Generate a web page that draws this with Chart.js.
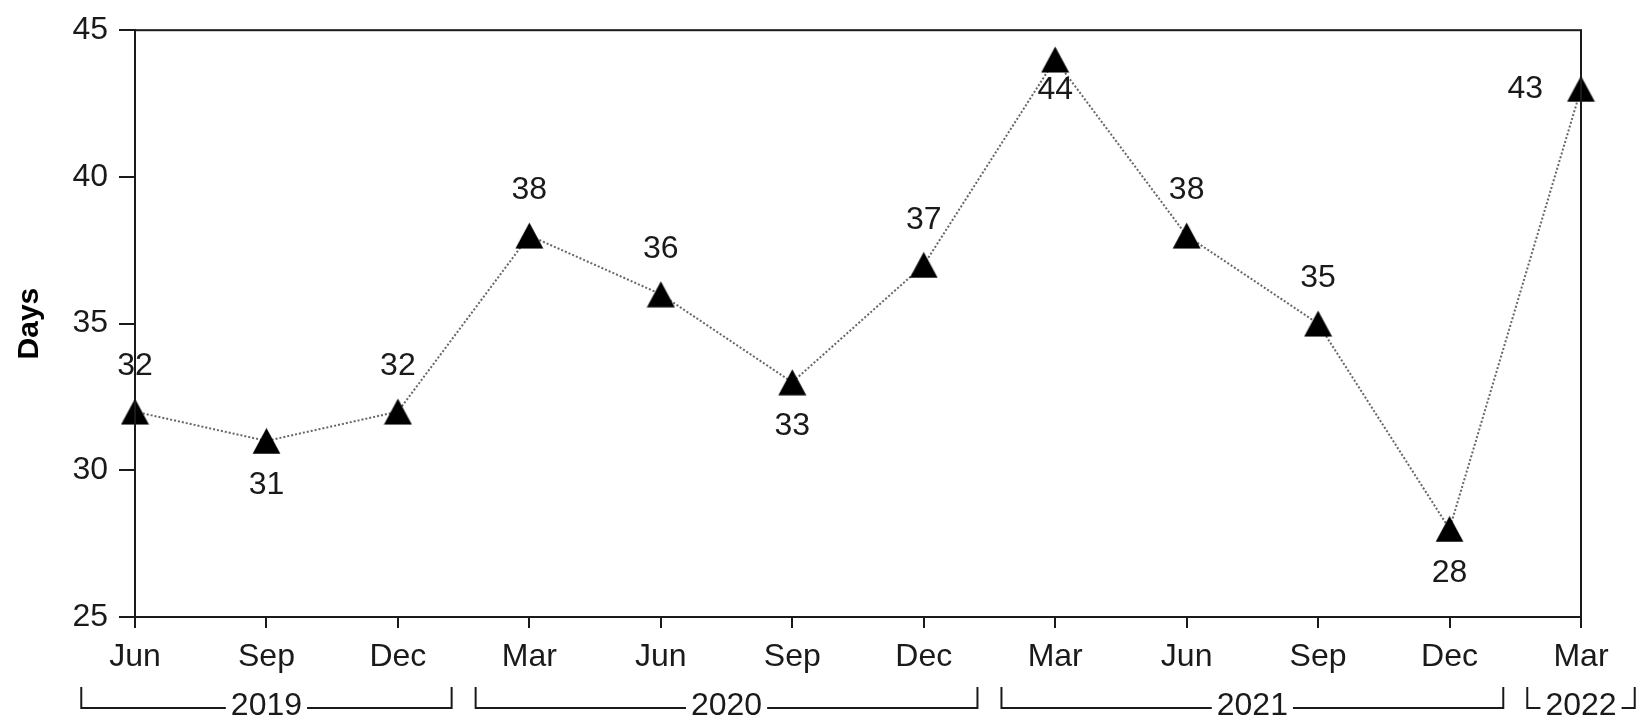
<!DOCTYPE html>
<html>
<head>
<meta charset="utf-8">
<script src="https://cdn.jsdelivr.net/npm/chart.js@4.4.1/dist/chart.umd.min.js"></script>
<style>
  html, body { margin: 0; padding: 0; background: #fff; }
  .chart-container { position: relative; width: 1648px; height: 720px; }
</style>
</head>
<body>
<div class="chart-container">
  <canvas id="myChart" width="1648" height="720"></canvas>
</div>
<script>
// --- dados ---
var months = ['Jun', 'Sep', 'Dec', 'Mar', 'Jun', 'Sep', 'Dec', 'Mar', 'Jun', 'Sep', 'Dec', 'Mar'];
var years  = ['2019', '2019', '2019', '2020', '2020', '2020', '2020', '2021', '2021', '2021', '2021', '2022'];
var days   = [32, 31, 32, 38, 36, 33, 37, 44, 38, 35, 28, 43];
var yTicks = [25, 30, 35, 40, 45];

// onde cada rótulo fica em relação ao ponto
var labelPlacement = ['above', 'below', 'above', 'above', 'above', 'below', 'above', 'under', 'above', 'above', 'below', 'left'];

var FONT = '"Liberation Sans", Arial, sans-serif';
var INK = '#1a1a1a';

// triângulo preenchido como marcador
function makeTriangle() {
  var c = document.createElement('canvas');
  c.width = 29; c.height = 27;
  var g = c.getContext('2d');
  g.fillStyle = '#000';
  g.beginPath();
  g.moveTo(14.5, 0.5);
  g.lineTo(28.5, 26.5);
  g.lineTo(0.5, 26.5);
  g.closePath();
  g.fill();
  return c;
}

// rótulos de valor
var valueLabels = {
  id: 'valueLabels',
  afterDatasetsDraw: function(chart) {
    var ctx = chart.ctx;
    var meta = chart.getDatasetMeta(0);
    ctx.save();
    ctx.font = '32px ' + FONT;
    ctx.fillStyle = INK;
    ctx.textBaseline = 'middle';
    meta.data.forEach(function(pt, i) {
      var p = labelPlacement[i];
      var x = pt.x, y = pt.y;
      ctx.textAlign = 'center';
      if (p === 'above') y -= 45;
      else if (p === 'below') y += 44;
      else if (p === 'under') y += 31;
      else if (p === 'left') { ctx.textAlign = 'right'; x -= 38; }
      ctx.fillText(String(days[i]), x, y);
    });
    ctx.restore();
  }
};

// moldura + colchetes dos anos
var frameAndYears = {
  id: 'frameAndYears',
  afterDraw: function(chart) {
    var ctx = chart.ctx;
    var a = chart.chartArea;
    var xs = chart.scales.x;
    ctx.save();
    ctx.strokeStyle = INK;
    ctx.lineWidth = 2;
    ctx.strokeRect(a.left, a.top, a.right - a.left, a.bottom - a.top);

    // agrupa categorias por ano
    var groups = [];
    years.forEach(function(yr, i) {
      var last = groups[groups.length - 1];
      if (last && last.year === yr) last.end = i;
      else groups.push({ year: yr, start: i, end: i });
    });

    var topY = a.bottom + 70, lineY = a.bottom + 91;
    ctx.font = '32px ' + FONT;
    ctx.fillStyle = INK;
    ctx.textAlign = 'center';
    ctx.textBaseline = 'middle';
    groups.forEach(function(gr) {
      var x0 = xs.getPixelForValue(gr.start - 0.5) + 12;
      var x1 = xs.getPixelForValue(gr.end + 0.5) - 12;
      var cx = (xs.getPixelForValue(gr.start) + xs.getPixelForValue(gr.end)) / 2;
      var tw = ctx.measureText(gr.year).width / 2 + 5;
      ctx.beginPath();
      ctx.moveTo(x0, topY);
      ctx.lineTo(x0, lineY);
      ctx.lineTo(cx - tw, lineY);
      ctx.moveTo(cx + tw, lineY);
      ctx.lineTo(x1, lineY);
      ctx.lineTo(x1, topY);
      ctx.stroke();
      ctx.fillText(gr.year, cx, lineY - 2);
    });
    ctx.restore();
  }
};

var ctx = document.getElementById('myChart').getContext('2d');
new Chart(ctx, {
  type: 'line',
  data: {
    labels: months,
    datasets: [{
      label: 'Days',
      data: days,
      borderColor: '#666',
      borderWidth: 2,
      borderDash: [2, 2],
      tension: 0,
      fill: false,
      pointStyle: makeTriangle(),
      pointRadius: 14,
      pointHoverRadius: 14
    }]
  },
  options: {
    responsive: false,
    animation: false,
    events: [],
    layout: { padding: { top: 30, right: 67, left: 0, bottom: 0 } },
    plugins: {
      legend: { display: false },
      tooltip: { enabled: false }
    },
    scales: {
      x: {
        type: 'category',
        offset: false,
        afterFit: function(s) { s.height = 103; },
        grid: { drawOnChartArea: false, drawTicks: true, tickLength: 11, color: INK, lineWidth: 2 },
        border: { display: true, color: INK, width: 2 },
        ticks: { color: INK, font: { family: FONT, size: 32 }, padding: 10, maxRotation: 0, autoSkip: false }
      },
      y: {
        min: 25,
        max: 45,
        afterFit: function(s) { s.width = 135; },
        afterBuildTicks: function(s) { s.ticks = yTicks.map(function(v) { return { value: v }; }); },
        grid: { drawOnChartArea: false, drawTicks: true, tickLength: 16, color: INK, lineWidth: 2 },
        border: { display: true, color: INK, width: 2 },
        ticks: { color: INK, font: { family: FONT, size: 32 }, padding: 11 },
        title: {
          display: true,
          text: 'Days',
          color: '#000',
          font: { family: FONT, size: 30, weight: 'bold' },
          padding: { top: 12, bottom: 0 }
        }
      }
    }
  },
  plugins: [valueLabels, frameAndYears]
});
</script>
</body>
</html>
